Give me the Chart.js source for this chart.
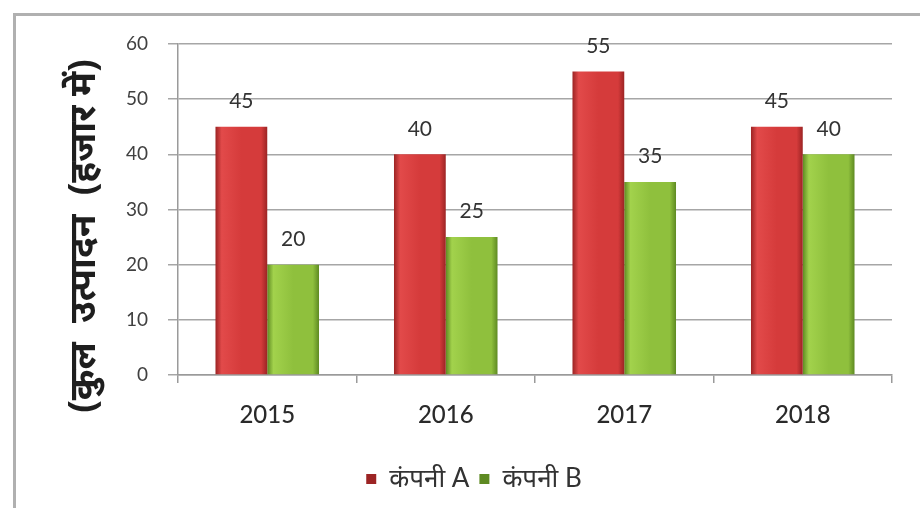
<!DOCTYPE html>
<html>
<head>
<meta charset="utf-8">
<script src="https://cdn.jsdelivr.net/npm/chart.js@4/dist/chart.umd.min.js"></script>
<style>
  html, body { margin: 0; padding: 0; background: #fff; }
  #wrap { width: 920px; height: 508px; }
</style>
</head>
<body>
<div id="wrap"><canvas id="prodChart" width="920" height="508"></canvas></div>
<script>
// yearly production, thousands
var years = ['2015', '2016', '2017', '2018'];
var companyA = [45, 40, 55, 45];
var companyB = [20, 25, 35, 40];
var seriesNames = ['कंपनी A', 'कंपनी B'];
var yTitle = '(कुल  उत्पादन  (हजार में)';

var catPct = 0.58;
var fontFamily = "Lato, 'Noto Sans', sans-serif";

// horizontal shading across each bar: dark edges, bright middle
function barFill(base, edge, light) {
    return function (ctx) {
        var chart = ctx.chart;
        var xs = chart.scales.x;
        if (!xs || ctx.dataIndex === undefined || !chart.chartArea) return base;
        var cat = xs.width / years.length;
        var bw = cat * catPct / 2;
        var c = xs.getPixelForValue(ctx.dataIndex) + (ctx.datasetIndex === 0 ? -bw / 2 : bw / 2);
        var g = chart.ctx.createLinearGradient(c - bw / 2, 0, c + bw / 2, 0);
        g.addColorStop(0, edge);
        g.addColorStop(0.12, light);
        g.addColorStop(0.5, base);
        g.addColorStop(0.88, base);
        g.addColorStop(1, edge);
        return g;
    };
}

var framePlugin = {
    id: 'frame',
    beforeDraw: function (chart) {
        var c = chart.ctx;
        c.save();
        c.fillStyle = '#fff';
        c.fillRect(0, 0, chart.width, chart.height);
        c.strokeStyle = '#b0b0b0';
        c.lineWidth = 3;
        c.strokeRect(14.5, 14.5, chart.width + 20, chart.height + 20);
        c.restore();
    },
    afterDraw: function (chart) {
        var c = chart.ctx;
        c.save();
        c.translate(84, 236);
        c.rotate(-Math.PI / 2);
        c.font = "bold 37px 'Noto Sans', sans-serif";
        c.fillStyle = '#1e1e1e';
        c.textAlign = 'center';
        c.textBaseline = 'middle';
        c.fillText(yTitle, 0, 0);
        c.restore();
    }
};

var valueLabels = {
    id: 'valueLabels',
    afterDatasetsDraw: function (chart) {
        var c = chart.ctx;
        c.save();
        c.font = '21px ' + fontFamily;
        c.fillStyle = '#333';
        c.textAlign = 'center';
        c.textBaseline = 'bottom';
        chart.data.datasets.forEach(function (ds, di) {
            chart.getDatasetMeta(di).data.forEach(function (bar, i) {
                c.fillText(ds.data[i], bar.x, bar.y - 15);
            });
        });
        c.restore();
    }
};

var ctx = document.getElementById('prodChart').getContext('2d');
var prodChart = new Chart(ctx, {
    type: 'bar',
    data: {
        labels: years,
        datasets: [
            {
                label: seriesNames[0],
                data: companyA,
                backgroundColor: barFill('#d53b3b', '#9c2424', '#e24a4a')
            },
            {
                label: seriesNames[1],
                data: companyB,
                backgroundColor: barFill('#8fc03d', '#5e8a22', '#a2d24c')
            }
        ]
    },
    options: {
        responsive: false,
        animation: false,
        layout: { padding: { left: 56, right: 28, top: 44, bottom: 6 } },
        datasets: {
            bar: { barPercentage: 1, categoryPercentage: catPct, borderWidth: 0 }
        },
        scales: {
            x: {
                grid: { offset: true, drawOnChartArea: false, drawTicks: true, tickLength: 8, color: '#9a9a9a', lineWidth: 1.5 },
                border: { color: '#9a9a9a', width: 1.5 },
                ticks: { font: { size: 24, family: fontFamily, weight: '500' }, color: '#2a2a2a', padding: 18 },
                afterFit: function (s) { s.height = 81; }
            },
            y: {
                min: 0,
                max: 60,
                ticks: { stepSize: 10, font: { size: 19, family: fontFamily }, color: '#404040', padding: 20 },
                grid: { color: '#a6a6a6', lineWidth: 1.5, tickLength: 10 },
                border: { color: '#9a9a9a', width: 1.5 },
                afterFit: function (s) { s.width = 122; }
            }
        },
        plugins: {
            legend: {
                position: 'bottom',
                labels: {
                    boxWidth: 10,
                    boxHeight: 10,
                    padding: 10,
                    color: '#333',
                    font: { size: 26, family: fontFamily }
                }
            },
            tooltip: { enabled: false }
        }
    },
    plugins: [framePlugin, valueLabels]
});
</script>
</body>
</html>
